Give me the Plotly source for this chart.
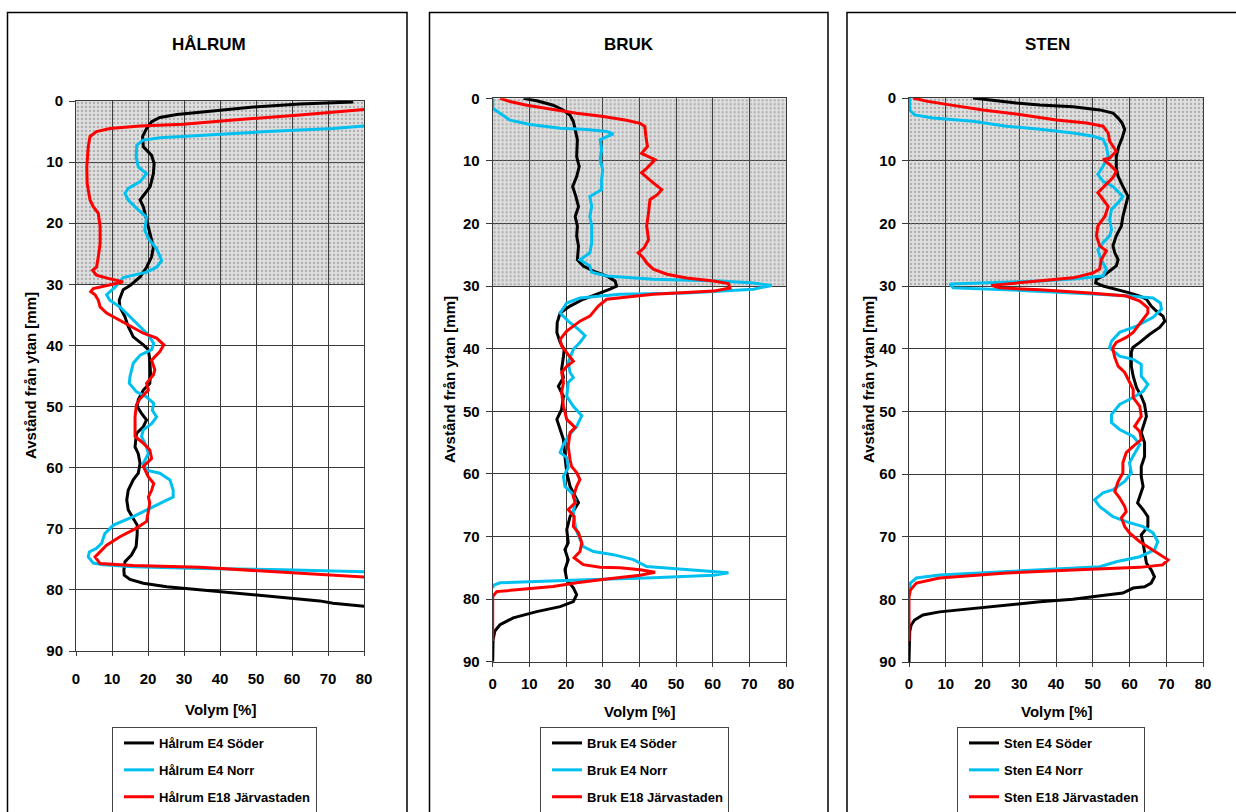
import plotly.graph_objects as go

W, H = 1236, 812

# ---------------- data ----------------
panel_titles = ["HÅLRUM", "BRUK", "STEN"]
x_axis_title = "Volym [%]"
y_axis_title = "Avstånd från ytan [mm]"
x_ticks = [0, 10, 20, 30, 40, 50, 60, 70, 80]
y_ticks = [0, 10, 20, 30, 40, 50, 60, 70, 80, 90]
x_range = [0, 80]
y_range = [90, 0]
shaded_depth = [0, 30]  # shaded (stippled) zone, mm from surface

series_names = [
    ["Hålrum E4 Söder", "Hålrum E4 Norr", "Hålrum E18 Järvastaden"],
    ["Bruk E4 Söder", "Bruk E4 Norr", "Bruk E18 Järvastaden"],
    ["Sten E4 Söder", "Sten E4 Norr", "Sten E18 Järvastaden"],
]
series_colors = ["#000000", "#00C0F0", "#FF0000"]

# Hålrum
halrum_soder_depth = [0.15, 0.5, 1.0, 1.6, 2.2, 2.7, 3.4, 4.5, 5.8, 7.5,
                      8.9, 10.2, 11.9, 14.0, 15.4, 16.2, 17.3, 19.5, 21.7, 23.9,
                      25.5, 27.2, 28.8, 30.2, 30.9, 32.6, 33.7, 35.3, 36.9, 38.6,
                      39.9, 40.7, 42.4, 44.6, 46.2, 47.3, 48.9, 50.0, 51.1, 52.2,
                      53.3, 54.4, 56.6, 57.7, 59.3, 60.9, 62.0, 63.7, 65.3, 66.9,
                      68.3, 69.4, 70.8, 72.9, 74.3, 75.4, 76.8, 77.6, 78.3, 78.9,
                      79.5, 80.0, 80.5, 81.0, 81.6, 81.8, 82.2, 82.7, 83.0]
halrum_soder_vol = [77, 62.2, 49.3, 38.1, 28.0, 23.3, 21.0, 19.6, 18.5, 18.7,
                    21.0, 21.7, 21.5, 20.6, 18.7, 17.8, 18.7, 19.6, 20.4, 21.5,
                    21.0, 19.6, 17.8, 15.0, 13.1, 12.0, 12.2, 13.6, 14.5, 15.9,
                    18.7, 20.1, 20.5, 20.7, 20.5, 18.7, 17.3, 17.0, 18.2, 19.6,
                    18.7, 16.8, 16.4, 17.3, 17.8, 17.3, 15.9, 14.5, 14.1, 14.5,
                    15.9, 17.0, 17.0, 16.7, 15.4, 13.6, 13.3, 13.4, 15.0, 18.7,
                    25.2, 34.4, 43.7, 53.0, 62.2, 67.7, 71.4, 80.0, 86.0]

halrum_norr_depth = [4.0, 4.5, 5.0, 5.6, 6.0, 6.4, 7.2, 9.1, 10.8, 11.9,
                     13.2, 14.3, 15.1, 16.2, 17.6, 19.0, 21.1, 22.5, 24.2, 26.1,
                     27.2, 28.0, 28.5, 28.9, 30.5, 31.7, 32.6, 33.7, 35.3, 36.9,
                     38.3, 39.7, 40.7, 41.6, 42.9, 45.1, 46.2, 47.6, 48.4, 49.5,
                     50.6, 51.7, 52.8, 53.8, 54.9, 56.6, 57.7, 59.3, 60.4, 60.9,
                     62.0, 63.7, 64.8, 65.6, 66.9, 68.0, 69.4, 70.8, 72.4, 73.2,
                     73.8, 74.6, 75.6, 75.9, 76.2, 76.5, 76.7, 76.9, 77.1, 77.2]
halrum_norr_vol = [82, 71.4, 53.0, 34.4, 23.3, 18.7, 16.9, 16.7, 17.3, 19.6,
                   17.8, 14.5, 13.6, 14.5, 16.9, 19.6, 19.1, 20.1, 22.4, 23.8,
                   22.4, 19.6, 15.9, 13.1, 10.8, 8.5, 9.4, 12.2, 15.0, 17.8,
                   20.1, 21.6, 21.0, 17.8, 15.9, 15.0, 14.8, 16.8, 19.6, 21.6,
                   21.2, 22.4, 21.0, 18.7, 18.2, 19.6, 20.1, 18.7, 19.6, 23.3,
                   26.1, 27.0, 27.0, 24.2, 19.6, 15.9, 10.4, 8.0, 7.1, 5.7,
                   3.7, 3.4, 4.8, 7.6, 15.9, 34.4, 57.5, 71.4, 80.0, 90.0]

halrum_jarva_depth = [1.3, 2.3, 3.1, 3.8, 4.1, 4.5, 5.0, 5.8, 7.5, 10.8,
                      13.5, 16.2, 17.3, 18.4, 20.6, 23.3, 25.5, 27.2, 27.7, 28.5,
                      29.1, 29.6, 29.9, 30.7, 31.2, 31.7, 32.6, 33.7, 34.7, 35.6,
                      36.9, 38.0, 38.8, 39.9, 41.0, 42.4, 44.0, 44.8, 46.2, 47.3,
                      48.7, 49.7, 51.7, 54.9, 56.0, 57.1, 58.5, 59.8, 61.5, 62.6,
                      63.7, 64.8, 65.8, 67.5, 68.8, 69.9, 71.3, 72.7, 73.8, 74.6,
                      75.7, 76.0, 76.3, 77.0, 77.7, 77.9, 78.2]
halrum_jarva_vol = [82, 62.2, 43.7, 29.8, 17.8, 9.4, 5.7, 3.9, 3.4, 3.0,
                    3.1, 3.9, 4.8, 6.2, 6.7, 6.7, 6.2, 5.7, 4.6, 5.7,
                    9.4, 13.1, 10.8, 4.8, 4.1, 5.3, 6.2, 6.7, 8.5, 11.3,
                    15.0, 18.7, 22.4, 24.4, 23.3, 21.0, 21.9, 21.5, 19.6, 20.1,
                    17.8, 16.8, 16.4, 16.4, 18.7, 20.5, 21.0, 18.7, 20.1, 21.6,
                    21.0, 20.1, 20.5, 20.1, 19.6, 16.8, 12.2, 8.5, 6.7, 5.3,
                    6.7, 15.9, 34.4, 53.0, 71.4, 80.0, 90.0]

# Bruk
bruk_soder_depth = [0, 0.4, 1.1, 1.9, 2.7, 3.7, 5.0, 6.6, 9.3, 10.9,
                    12.5, 14.1, 15.7, 17.3, 18.9, 20.4, 22.0, 23.6, 25.8, 26.8,
                    27.6, 28.4, 29.2, 30.0, 30.5, 31.3, 32.1, 33.2, 34.3, 35.8,
                    37.4, 39.0, 40.1, 41.2, 43.3, 44.6, 46.0, 47.6, 49.7, 51.3,
                    52.9, 54.5, 57.2, 59.8, 62.0, 63.6, 64.6, 66.8, 68.9, 71.0,
                    72.1, 73.7, 75.3, 76.9, 78.2, 79.3, 80.4, 81.2, 82.0, 83.0,
                    84.1, 85.1, 86.5, 90.0]
bruk_soder_vol = [8.4, 12.0, 16.5, 19.3, 21.1, 22.0, 22.5, 23.1, 22.9, 23.6,
                  22.9, 21.8, 22.7, 23.4, 22.5, 23.1, 22.9, 23.4, 23.1, 24.7,
                  27.5, 31.1, 33.4, 33.8, 32.0, 28.4, 24.7, 21.1, 18.4, 17.6,
                  17.5, 18.4, 19.5, 19.3, 18.8, 19.3, 17.9, 19.3, 18.8, 17.5,
                  18.4, 19.3, 19.7, 20.2, 21.1, 22.5, 23.4, 21.1, 20.2, 20.6,
                  19.7, 20.6, 19.7, 20.2, 22.0, 22.9, 22.0, 18.4, 12.0, 5.6,
                  2.0, 0.6, 0.1, 0.0]

bruk_norr_depth = [0, 1.6, 2.4, 3.5, 4.2, 4.8, 5.0, 5.3, 5.7, 6.2,
                   6.6, 8.2, 9.8, 11.4, 13.0, 14.6, 15.7, 17.3, 18.9, 20.4,
                   23.1, 24.7, 25.8, 26.8, 27.8, 28.4, 28.9, 29.2, 29.5, 29.9,
                   30.5, 31.1, 31.3, 31.9, 32.7, 34.3, 35.6, 36.9, 37.9, 39.0,
                   40.1, 42.2, 43.8, 44.6, 45.4, 47.6, 49.2, 50.7, 52.4, 54.0,
                   55.3, 56.6, 57.4, 59.0, 60.4, 62.0, 63.0, 64.1, 66.2, 68.9,
                   70.5, 71.6, 72.4, 72.9, 73.7, 74.8, 75.0, 75.3, 75.6, 75.8,
                   76.2, 76.6, 76.9, 77.2, 77.4, 77.8, 78.2]
bruk_norr_vol = [0, 0, 2.0, 4.7, 10.2, 18.4, 25.6, 31.1, 32.9, 31.1,
                 29.3, 29.7, 29.3, 30.0, 29.7, 29.7, 26.5, 27.0, 26.5, 27.0,
                 27.0, 26.5, 23.8, 26.5, 27.0, 31.1, 43.8, 62.0, 71.1, 76.1,
                 71.1, 52.9, 34.7, 23.8, 20.2, 18.4, 20.6, 23.4, 25.2, 23.8,
                 22.0, 20.6, 21.1, 22.0, 20.6, 20.2, 22.0, 24.3, 22.9, 20.6,
                 19.3, 18.4, 20.2, 20.6, 19.3, 19.7, 21.5, 22.5, 22.0, 22.7,
                 23.8, 24.7, 27.5, 32.9, 38.4, 42.0, 46.5, 52.9, 59.3, 64.3,
                 60.2, 43.8, 25.6, 12.0, 2.0, 0.2, 0.0]

bruk_jarva_depth = [0, 0.5, 1.1, 1.8, 2.4, 2.9, 3.5, 4.0, 4.5, 6.1,
                    7.7, 8.8, 9.8, 11.2, 11.9, 13.5, 14.6, 15.4, 16.2, 18.3,
                    20.4, 22.6, 23.9, 24.7, 25.5, 26.3, 27.3, 28.1, 28.7, 29.2,
                    29.6, 30.3, 30.8, 31.3, 32.1, 33.2, 34.8, 35.6, 37.2, 38.5,
                    39.6, 42.0, 42.8, 43.8, 45.4, 47.0, 49.2, 51.3, 52.6, 53.4,
                    55.6, 57.7, 58.8, 59.8, 60.9, 62.0, 63.6, 64.6, 65.7, 66.8,
                    68.4, 69.4, 71.0, 72.4, 73.4, 74.5, 74.9, 75.0, 75.3, 75.7,
                    76.2, 76.8, 77.4, 78.0, 78.4, 78.8, 79.6, 86.7]
bruk_jarva_vol = [2.0, 4.7, 9.3, 16.5, 22.9, 30.2, 36.5, 40.2, 41.5, 41.8,
                  42.2, 40.6, 44.3, 42.0, 40.6, 43.8, 46.1, 44.9, 42.9, 42.5,
                  42.0, 42.5, 41.3, 39.7, 41.1, 42.0, 43.8, 47.5, 52.9, 60.2,
                  64.3, 64.7, 60.2, 43.8, 31.1, 28.8, 26.5, 23.8, 20.2, 18.4,
                  18.8, 22.0, 20.2, 18.8, 19.3, 18.8, 19.3, 20.2, 22.5, 21.1,
                  20.6, 21.1, 21.5, 22.9, 23.8, 22.9, 22.0, 22.5, 20.6, 22.2,
                  22.0, 23.4, 24.3, 23.8, 22.2, 24.7, 29.3, 34.7, 40.2, 44.3,
                  40.2, 31.1, 22.9, 16.5, 7.5, 1.1, 0.0, 0.0]

# Sten
sten_soder_depth = [0, 0.3, 0.8, 1.1, 1.4, 1.9, 2.4, 3.2, 4.0, 5.0,
                    6.4, 7.7, 9.3, 11.2, 12.5, 14.1, 15.7, 17.3, 18.9, 20.4,
                    22.0, 23.6, 24.7, 25.8, 26.8, 27.6, 28.4, 28.9, 29.5, 30.0,
                    30.5, 31.1, 31.6, 32.1, 33.2, 34.0, 34.8, 35.6, 36.6, 37.7,
                    39.0, 39.8, 40.6, 42.8, 44.4, 46.2, 47.6, 48.9, 50.8, 52.4,
                    53.4, 55.0, 57.2, 58.8, 60.4, 62.0, 63.6, 64.6, 65.7, 66.8,
                    68.4, 69.7, 71.0, 72.6, 74.2, 75.3, 76.4, 77.4, 78.0, 78.2,
                    79.0, 79.3, 79.6, 80.0, 80.4, 80.9, 81.4, 82.0, 82.5, 83.3,
                    84.1, 85.1, 90.0]
sten_soder_vol = [17.4, 21.9, 29.2, 35.6, 44.6, 51.9, 55.5, 56.9, 58.0, 58.7,
                  58.0, 57.1, 56.4, 56.4, 56.9, 58.2, 59.6, 58.9, 58.2, 57.8,
                  56.4, 55.5, 56.0, 56.9, 56.4, 54.6, 52.8, 51.0, 50.8, 52.8,
                  56.4, 60.0, 62.8, 64.6, 65.9, 67.3, 69.1, 69.6, 68.2, 65.5,
                  62.8, 60.9, 60.5, 60.5, 61.0, 61.9, 63.2, 64.1, 64.6, 63.7,
                  63.2, 64.1, 64.1, 63.2, 63.2, 63.7, 62.8, 62.2, 63.7, 65.0,
                  65.0, 63.2, 63.7, 64.1, 64.6, 65.9, 66.8, 65.9, 64.1, 61.0,
                  58.2, 53.7, 49.2, 44.6, 35.6, 26.5, 17.4, 8.3, 3.8, 1.5,
                  0.6, 0.2, 0.0]

sten_norr_depth = [0, 1.9, 2.7, 3.2, 3.7, 4.5, 5.0, 5.6, 6.1, 6.6,
                   7.7, 9.3, 10.9, 12.2, 13.3, 14.1, 15.7, 16.7, 17.8, 19.4,
                   21.0, 22.0, 23.1, 24.2, 25.8, 27.3, 28.4, 28.9, 29.2, 29.5,
                   29.7, 30.3, 30.6, 31.1, 31.5, 31.9, 32.7, 33.7, 35.0, 36.4,
                   37.4, 38.8, 39.8, 40.1, 41.2, 41.7, 42.5, 44.4, 45.7, 46.8,
                   47.8, 48.9, 50.5, 51.8, 52.9, 54.0, 55.3, 56.6, 58.2, 59.8,
                   61.2, 62.5, 63.0, 64.1, 65.2, 66.8, 67.6, 68.4, 69.4, 70.8,
                   72.1, 73.2, 74.0, 74.8, 75.0, 75.6, 76.1, 76.6, 77.4, 79.0]
sten_norr_vol = [0.2, 0.2, 1.5, 6.5, 17.4, 26.5, 35.6, 44.6, 50.1, 52.8,
                 53.7, 54.2, 52.8, 51.4, 52.8, 55.5, 58.2, 56.9, 55.1, 54.6,
                 55.1, 54.6, 52.8, 51.4, 52.3, 53.7, 52.8, 44.6, 35.6, 21.9,
                 11.1, 12.0, 26.5, 44.6, 58.2, 66.4, 68.4, 68.7, 66.4, 61.9,
                 57.3, 55.1, 54.6, 55.1, 57.3, 61.0, 63.2, 63.2, 65.0, 63.7,
                 61.0, 57.3, 55.1, 55.1, 57.3, 61.0, 62.8, 61.5, 60.0, 60.5,
                 58.7, 55.5, 52.8, 50.5, 51.9, 55.5, 59.1, 63.7, 66.4, 67.7,
                 66.8, 62.8, 56.4, 51.9, 44.6, 26.5, 8.3, 2.0, 0.4, 0.0]

sten_jarva_depth = [0, 0.5, 1.1, 1.9, 2.7, 3.5, 4.0, 4.5, 5.6, 6.9,
                    7.7, 8.5, 9.6, 9.8, 10.6, 11.7, 12.7, 13.8, 15.1, 16.2,
                    17.3, 18.9, 20.4, 22.0, 23.6, 24.4, 25.8, 27.3, 27.9, 28.7,
                    29.2, 29.6, 29.9, 30.3, 30.6, 31.1, 31.6, 32.4, 33.5, 34.3,
                    35.3, 36.4, 37.4, 38.2, 39.0, 39.8, 40.1, 41.4, 42.8, 43.8,
                    45.2, 46.5, 47.8, 49.2, 50.8, 52.4, 53.2, 54.5, 55.6, 56.6,
                    58.2, 59.8, 61.2, 62.8, 63.8, 65.2, 66.0, 67.0, 68.4, 69.4,
                    70.8, 72.1, 73.2, 73.7, 74.5, 74.9, 75.3, 75.8, 76.6, 77.4,
                    78.5, 79.6, 86.7]
sten_jarva_vol = [1.1, 4.7, 11.1, 20.1, 31.0, 40.1, 48.3, 52.8, 54.2, 54.6,
                  55.5, 56.4, 54.6, 52.8, 54.6, 56.4, 55.5, 53.7, 51.4, 52.8,
                  54.2, 53.3, 51.4, 51.0, 51.9, 53.7, 52.3, 51.9, 50.1, 44.6,
                  35.6, 26.5, 22.4, 24.7, 35.6, 49.2, 59.1, 62.8, 65.0, 65.0,
                  63.7, 62.3, 61.0, 59.1, 56.4, 55.5, 55.5, 56.0, 56.9, 58.7,
                  60.0, 61.0, 61.0, 62.8, 63.2, 61.4, 62.8, 63.2, 61.0, 59.1,
                  58.2, 58.2, 56.9, 56.0, 57.3, 58.7, 59.1, 57.8, 58.7, 60.0,
                  62.8, 66.4, 69.1, 70.5, 69.0, 62.8, 44.6, 26.5, 8.3, 2.0,
                  0.4, 0.0, 0.0]

panel_series = [
    [(halrum_soder_vol, halrum_soder_depth), (halrum_norr_vol, halrum_norr_depth), (halrum_jarva_vol, halrum_jarva_depth)],
    [(bruk_soder_vol, bruk_soder_depth), (bruk_norr_vol, bruk_norr_depth), (bruk_jarva_vol, bruk_jarva_depth)],
    [(sten_soder_vol, sten_soder_depth), (sten_norr_vol, sten_norr_depth), (sten_jarva_vol, sten_jarva_depth)],
]

# ---------------- layout geometry (pixels) ----------------
plot_boxes = [  # left, right, top, bottom
    (76, 364, 101, 651),
    (492.7, 786, 98.3, 661.7),
    (909, 1203, 98, 662),
]
frame_x = [(7.5, 407), (429.5, 828), (847, 1245)]
frame_top = 12.5
title_x = [209, 629, 1047]
title_y = 44
ytitle_x = [30, 449, 868]
xtitle_y = [709, 711, 711]
legend_left = [112, 540, 957]
legend_top = 727
xtick_standoff = [10, 4, 4]

FONT = "Liberation Sans, Arial, Helvetica, sans-serif"
GRID = "#3a3a3a"


def px_x(p):
    return p / W


def px_y(p):
    return 1 - p / H


fig = go.Figure()
shapes = []
annotations = []
layout = dict(
    width=W, height=H, margin=dict(l=0, r=0, t=0, b=0, pad=0, autoexpand=False),
    paper_bgcolor="white", plot_bgcolor="white",
    font=dict(family=FONT, color="black"),
    showlegend=True,
)

for i in range(3):
    sfx = "" if i == 0 else str(i + 1)
    xa, ya = "x" + sfx, "y" + sfx
    L, R, T, B = plot_boxes[i]
    layout["xaxis" + sfx] = dict(
        domain=[px_x(L), px_x(R)], anchor=ya, range=x_range, tickvals=x_ticks,
        showgrid=True, gridcolor=GRID, gridwidth=1, zeroline=False,
        showline=True, mirror=True, linecolor=GRID, linewidth=1,
        ticks="outside", ticklen=4, tickcolor=GRID,
        ticklabelstandoff=xtick_standoff[i], automargin=False,
        tickfont=dict(family=FONT, size=15, color="black", weight="bold"),
        fixedrange=True,
    )
    layout["yaxis" + sfx] = dict(
        domain=[px_y(B), px_y(T)], anchor=xa, range=y_range, tickvals=y_ticks,
        showgrid=True, gridcolor=GRID, gridwidth=1, zeroline=False,
        showline=True, mirror=True, linecolor=GRID, linewidth=1,
        ticks="outside", ticklen=6, tickcolor=GRID,
        ticklabelstandoff=3, automargin=False,
        tickfont=dict(family=FONT, size=15, color="black", weight="bold"),
        fixedrange=True,
    )

    # shaded zone: light grey base (under grid) + stipple pattern
    shapes.append(dict(type="rect", xref=xa, yref=ya, x0=x_range[0], x1=x_range[1],
                       y0=shaded_depth[0], y1=shaded_depth[1],
                       fillcolor="#dedede", line=dict(width=0), layer="below"))
    fig.add_trace(go.Scatter(
        x=[x_range[0], x_range[1], x_range[1], x_range[0], x_range[0]],
        y=[shaded_depth[0], shaded_depth[0], shaded_depth[1], shaded_depth[1], shaded_depth[0]],
        xaxis=xa, yaxis=ya, mode="none", fill="toself",
        fillcolor="rgba(0,0,0,0)",
        fillpattern=dict(shape=".", fgcolor="#7a7a7a", bgcolor="rgba(0,0,0,0)",
                         size=4, solidity=0.25),
        showlegend=False, hoverinfo="skip",
    ))

    legend_id = "legend" + sfx
    for j, (vol, depth) in enumerate(panel_series[i]):
        fig.add_trace(go.Scatter(
            x=vol, y=depth, xaxis=xa, yaxis=ya, mode="lines",
            name=series_names[i][j], legend=legend_id, legendgroup=f"g{i}{j}",
            line=dict(color=series_colors[j], width=3),
        ))

    layout[legend_id] = dict(
        x=px_x(legend_left[i]), y=px_y(legend_top), xanchor="left", yanchor="top",
        xref="paper", yref="paper",
        bgcolor="white", bordercolor="#444444", borderwidth=1,
        font=dict(family=FONT, size=13, color="black", weight="bold"),
        tracegroupgap=7, itemwidth=30, indentation=6,
        entrywidth=154, entrywidthmode="pixels",
    )

    # panel frame
    fx0, fx1 = frame_x[i]
    shapes.append(dict(type="rect", xref="paper", yref="paper",
                       x0=px_x(fx0), x1=px_x(fx1), y0=px_y(frame_top), y1=-0.1,
                       line=dict(color="black", width=1.5), fillcolor="rgba(0,0,0,0)",
                       layer="below"))

    # panel title
    annotations.append(dict(text=panel_titles[i], x=px_x(title_x[i]), y=px_y(title_y),
                            xref="paper", yref="paper", showarrow=False,
                            xanchor="center", yanchor="middle",
                            font=dict(family=FONT, size=17, color="black", weight="bold")))
    # axis titles
    annotations.append(dict(text=x_axis_title, x=px_x((L + R) / 2), y=px_y(xtitle_y[i]),
                            xref="paper", yref="paper", showarrow=False,
                            xanchor="center", yanchor="middle",
                            font=dict(family=FONT, size=15, color="black", weight="bold")))
    annotations.append(dict(text=y_axis_title, x=px_x(ytitle_x[i]), y=px_y((T + B) / 2),
                            xref="paper", yref="paper", showarrow=False, textangle=-90,
                            xanchor="center", yanchor="middle",
                            font=dict(family=FONT, size=15, color="black", weight="bold")))

layout["shapes"] = shapes
layout["annotations"] = annotations
fig.update_layout(**layout)
# the page is shown edge to edge (no default 8px body margin), without the mode bar
fig.write_html("out.html", config={"displayModeBar": False},
               post_script="document.body.style.margin='0px';")
